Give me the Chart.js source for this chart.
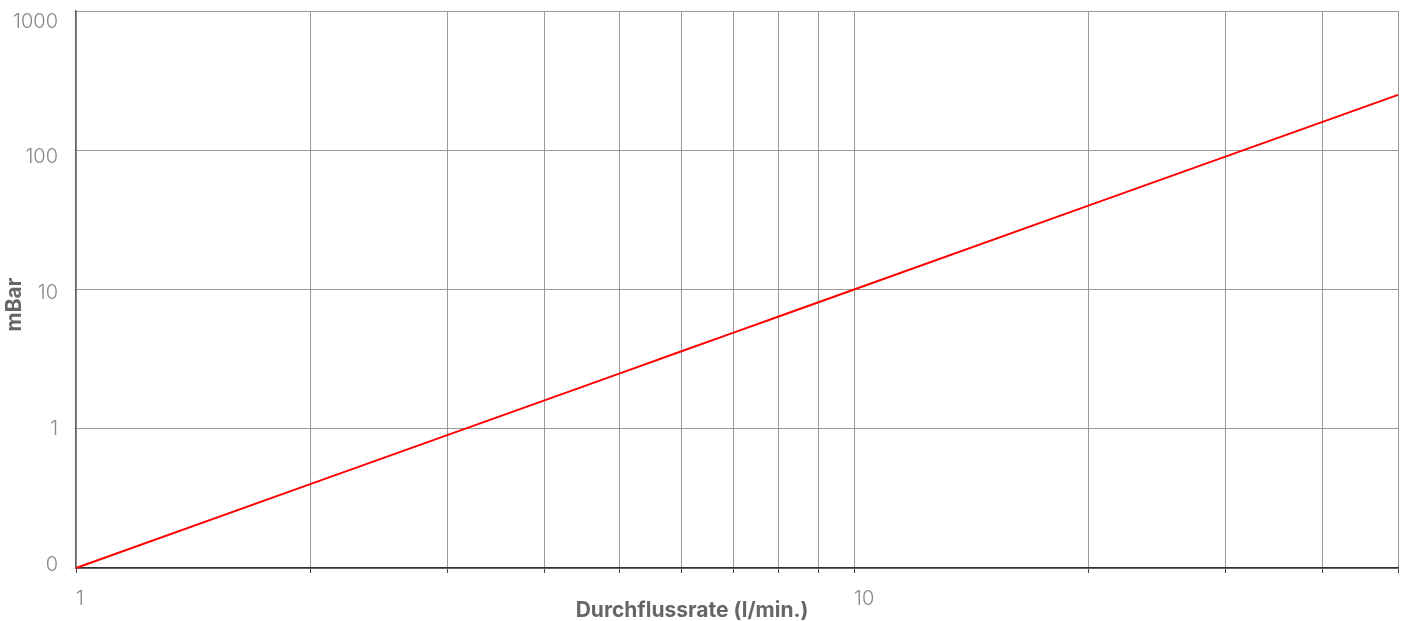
<!DOCTYPE html>
<html>
<head>
<meta charset="utf-8">
<script src="https://cdn.jsdelivr.net/npm/chart.js@4"></script>
<style>
  html, body { margin: 0; padding: 0; background: #fff; }
  #wrap { width: 1405px; height: 621px; }
</style>
</head>
<body>
<div id="wrap"><canvas id="chart"></canvas></div>
<script>
// flow rate (l/min) and pressure drop (mBar)
const flow = [1, 2, 3, 4, 5, 6, 7, 8, 9, 10, 20, 30, 40, 50];
const mbar = [0.1, 0.4, 0.9, 1.6, 2.5, 3.6, 4.9, 6.4, 8.1, 10, 40, 90, 160, 250];

const xTicks = [1, 2, 3, 4, 5, 6, 7, 8, 9, 10, 20, 30, 40, 50];
const xTickLabels = ['1', '', '', '', '', '', '', '', '', '10', '', '', '', ''];
const yTicks = [0.1, 1, 10, 100, 1000];
const yTickLabels = ['0', '1', '10', '100', '1000'];

const xTitle = 'Durchflussrate (l/min.)';
const yTitle = 'mBar';

const tickFont = { family: 'Inter', size: 20, weight: '300' };

// axis titles sit a bit off-centre in the original, so draw them here
const axisTitles = {
  id: 'axisTitles',
  afterDraw(chart) {
    const c = chart.ctx;
    const a = chart.chartArea;
    c.save();
    c.fillStyle = '#666';
    c.font = 'bold 21px Inter';
    c.textAlign = 'center';
    c.textBaseline = 'middle';
    c.fillText(xTitle, a.left + a.width * 0.466, 611);
    c.translate(15, a.top + a.height * 0.527);
    c.rotate(-Math.PI / 2);
    c.fillText(yTitle, 0, 0);
    c.restore();
  }
};

const ctx = document.getElementById('chart');
new Chart(ctx, {
  type: 'line',
  data: {
    datasets: [{
      label: 'mBar',
      yAxisID: 'y',
      data: flow.map((f, i) => ({ x: f, y: mbar[i] })),
      borderColor: '#ff0000',
      borderWidth: 2,
      pointRadius: 0,
      tension: 0,
      clip: false
    }]
  },
  plugins: [axisTitles],
  options: {
    responsive: true,
    maintainAspectRatio: false,
    animation: false,
    layout: { padding: 0 },
    plugins: {
      legend: { display: false },
      tooltip: { enabled: false }
    },
    scales: {
      x: {
        type: 'logarithmic',
        min: 1,
        max: 50,
        afterBuildTicks: s => { s.ticks = xTicks.map(v => ({ value: v })); },
        afterFit: s => {
          s.height = 53;
          s.paddingLeft = 0;
          s.paddingRight = 7;
        },
        ticks: {
          autoSkip: false,
          maxRotation: 0,
          align: 'start',
          padding: 14,
          color: '#888',
          font: tickFont,
          callback: (v, i) => xTickLabels[i]
        },
        grid: { color: '#999', tickColor: '#444', tickLength: 5 },
        border: { color: '#333', width: 1.5 }
      },
      // grid + border only; labels come from yLabels below
      y: {
        type: 'logarithmic',
        min: 0.1,
        max: 1000,
        afterBuildTicks: s => { s.ticks = yTicks.map(v => ({ value: v })); },
        afterFit: s => {
          s.width = 0;
          s.paddingTop = 11;
          s.paddingBottom = 0;
        },
        ticks: { display: false },
        grid: { color: '#999', tickColor: '#eee', tickLength: 6 },
        border: { color: '#666', width: 1.5 }
      },
      // the original's labels sit on a slightly tighter spacing than the grid
      yLabels: {
        type: 'logarithmic',
        position: 'left',
        min: 0.095,
        max: 1195,
        afterBuildTicks: s => { s.ticks = yTicks.map(v => ({ value: v })); },
        afterFit: s => {
          s.width = 76;
          s.paddingTop = 11;
          s.paddingBottom = 0;
        },
        ticks: {
          autoSkip: false,
          padding: 10,
          color: '#888',
          font: tickFont,
          callback: (v, i) => yTickLabels[i]
        },
        grid: { display: false },
        border: { display: false }
      }
    }
  }
});
</script>
</body>
</html>
